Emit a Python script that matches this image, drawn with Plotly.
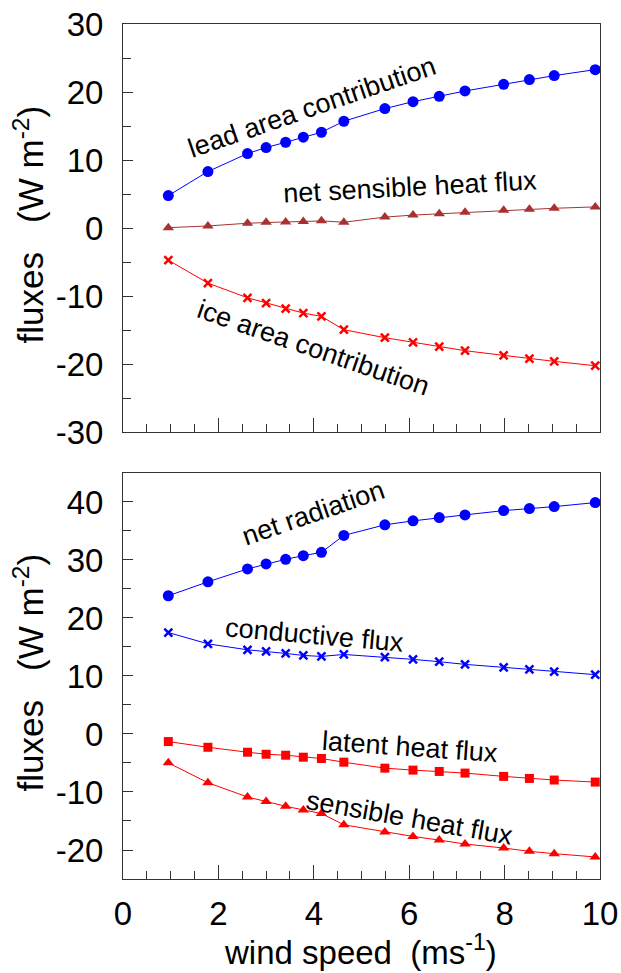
import plotly.graph_objects as go
from plotly.subplots import make_subplots

wind_speed = [0.95, 1.78, 2.61, 3.0, 3.41, 3.78, 4.16, 4.63, 5.49, 6.08, 6.63, 7.17, 7.98, 8.52, 9.04, 9.9]

# top panel
lead_area = [4.77, 8.30, 10.95, 11.83, 12.61, 13.35, 14.08, 15.70, 17.56, 18.58, 19.37, 20.15, 21.13, 21.82, 22.41, 23.29]
net_sensible = [0.05, 0.3, 0.7, 0.85, 0.9, 0.95, 1.05, 0.85, 1.6, 1.9, 2.1, 2.3, 2.6, 2.75, 2.9, 3.1]
ice_area = [-4.73, -8.10, -10.26, -11.04, -11.87, -12.51, -13.00, -14.96, -16.13, -16.82, -17.46, -18.04, -18.73, -19.22, -19.61, -20.25]

# bottom panel
net_radiation = [23.83, 26.23, 28.46, 29.31, 30.11, 30.74, 31.31, 34.23, 36.06, 36.74, 37.31, 37.77, 38.51, 38.86, 39.2, 39.89]
conductive = [17.49, 15.54, 14.51, 14.23, 13.89, 13.54, 13.37, 13.71, 13.26, 12.86, 12.46, 12.0, 11.49, 11.14, 10.74, 10.23]
latent = [-1.31, -2.29, -3.14, -3.49, -3.66, -4.0, -4.23, -4.86, -5.89, -6.23, -6.46, -6.74, -7.31, -7.66, -7.94, -8.29]
sensible = [-4.97, -8.4, -10.86, -11.66, -12.46, -13.09, -13.71, -15.66, -16.91, -17.66, -18.29, -18.97, -19.66, -20.23, -20.63, -21.2]

x_ticks = [0, 2, 4, 6, 8, 10]
top_y_ticks = [-30, -20, -10, 0, 10, 20, 30]
bottom_y_ticks = [-20, -10, 0, 10, 20, 30, 40]

BLUE = "#0000FF"
RED = "#FF0000"
BROWN = "#A83232"
FONT = "Arial, Liberation Sans, sans-serif"
TICKFONT = 33

fig = make_subplots(rows=2, cols=1, shared_xaxes=False, vertical_spacing=0.048)

def add(y, color, symbol, size, row):
    fig.add_trace(go.Scatter(x=wind_speed, y=y, mode="lines+markers",
                             line=dict(color=color, width=1),
                             marker=dict(color=color, symbol=symbol, size=size,
                                         line=dict(width=0)),
                             showlegend=False), row=row, col=1)

add(lead_area, BLUE, "circle", 11, 1)
add(net_sensible, BROWN, "triangle-up", 10, 1)
add(ice_area, RED, "x-thin", 8, 1)
fig.data[-1].marker.line = dict(color=RED, width=2.5)

add(net_radiation, BLUE, "circle", 11, 2)
add(conductive, BLUE, "x-thin", 8, 2)
fig.data[-1].marker.line = dict(color=BLUE, width=2.5)
add(latent, RED, "square", 9, 2)
add(sensible, RED, "triangle-up", 10, 2)

def lab(v):
    return str(v).replace("\u2212", "-")

axis_common = dict(showline=True, linecolor="#333333", linewidth=1, mirror=True,
                   showgrid=False, zeroline=False, ticks="inside", automargin=False,
                   tickcolor="#333333", tickfont=dict(family=FONT, size=TICKFONT, color="black"))

fig.update_xaxes(range=[0, 10], tickvals=x_ticks, ticktext=[lab(v) for v in x_ticks], ticklen=14,
                 ticklabelstandoff=5,
                 minor=dict(dtick=0.5, ticks="inside", ticklen=8, tickcolor="#333333"),
                 **axis_common)
fig.update_xaxes(showticklabels=False, row=1, col=1)
fig.update_yaxes(ticklen=10, ticklabelstandoff=12, **axis_common)
fig.update_yaxes(range=[-30, 30], tickvals=top_y_ticks, ticktext=[lab(v) for v in top_y_ticks],
                 minor=dict(dtick=5, ticks="inside", ticklen=8, tickcolor="#333333"),
                 row=1, col=1)
fig.update_yaxes(range=[-25, 45], tickvals=bottom_y_ticks, ticktext=[lab(v) for v in bottom_y_ticks],
                 minor=dict(dtick=5, ticks="inside", ticklen=8, tickcolor="#333333"),
                 row=2, col=1)

fig.update_layout(
    width=621, height=973,
    margin=dict(l=123, r=21, t=24, b=94),
    paper_bgcolor="white", plot_bgcolor="white",
    font=dict(family=FONT, size=26, color="black"),
)
fig.update_xaxes(domain=[0, 1])
fig.layout.yaxis.domain = [0.5228, 1.0]
fig.layout.yaxis2.domain = [0.0, 0.4749]

ann = dict(showarrow=False, xanchor="center", yanchor="middle")
labels = [
    ("lead area contribution", 3.97, 17.8, -19, "x", "y"),
    ("net sensible heat flux", 6.01, 6.05, -3, "x", "y"),
    ("ice area contribution", 4.0, -17.6, 19, "x", "y"),
    ("net radiation", 3.99, 38.1, -19, "x2", "y2"),
    ("conductive flux", 4.02, 17.0, 5, "x2", "y2"),
    ("latent heat flux", 6.01, -2.2, 4, "x2", "y2"),
    ("sensible heat flux", 6.01, -14.5, 10, "x2", "y2"),
]
for text, x, y, ang, xr, yr in labels:
    fig.add_annotation(text=text, x=x, y=y, xref=xr, yref=yr, textangle=ang,
                       font=dict(family=FONT, size=27, color="black"), **ann)

title_font = dict(family=FONT, size=35, color="black")
ytitle = "fluxes&nbsp;&nbsp;&nbsp;(W&nbsp;m<sup>-2</sup>)"
fig.add_annotation(text=ytitle, x=-0.198, y=0.765, xref="paper", yref="paper",
                   textangle=-90, font=title_font, **ann)
fig.add_annotation(text=ytitle, x=-0.198, y=0.241, xref="paper", yref="paper",
                   textangle=-90, font=title_font, **ann)
fig.add_annotation(text="wind speed&nbsp;&nbsp;(ms<sup>-1</sup>)", x=0.497, y=-0.083, xref="paper", yref="paper",
                   font=dict(family=FONT, size=33, color="black"), **ann)

fig.write_html("out.html", config={"displayModeBar": False},
               post_script="document.body.style.margin='0';document.body.style.overflow='hidden';")
